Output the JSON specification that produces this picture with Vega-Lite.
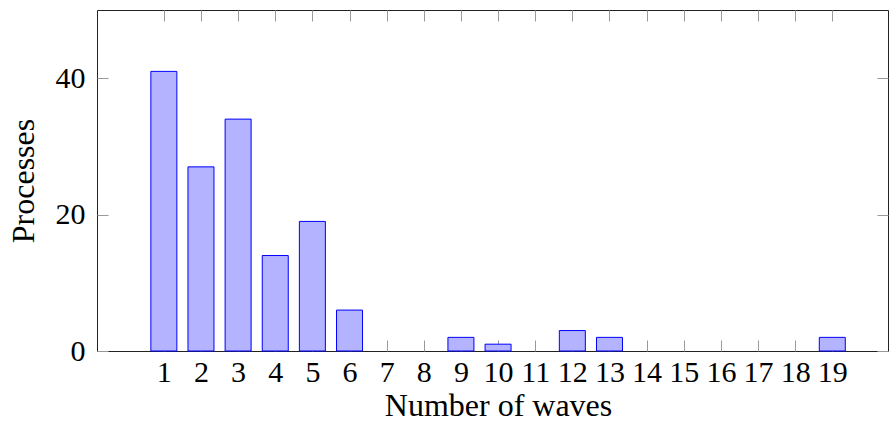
{
  "$schema": "https://vega.github.io/schema/vega-lite/v6.json",
  "autosize": {"type": "none"},
  "padding": {"left": 97, "top": 10, "right": 3, "bottom": 80},
  "width": 791,
  "height": 341,
  "config": {
    "view": {"stroke": "#222222", "strokeWidth": 1},
    "font": "Liberation Serif",
    "axis": {
      "labelFont": "Liberation Serif",
      "titleFont": "Liberation Serif",
      "labelFontSize": 30,
      "titleFontSize": 32,
      "labelColor": "#000000",
      "titleColor": "#000000",
      "titleFontWeight": "normal",
      "tickColor": "#999999",
      "tickWidth": 1,
      "tickSize": -11,
      "domain": false,
      "grid": false
    }
  },
  "data": {
    "values": [
      {"waves": 1, "processes": 41},
      {"waves": 2, "processes": 27},
      {"waves": 3, "processes": 34},
      {"waves": 4, "processes": 14},
      {"waves": 5, "processes": 19},
      {"waves": 6, "processes": 6},
      {"waves": 9, "processes": 2},
      {"waves": 10, "processes": 1},
      {"waves": 12, "processes": 3},
      {"waves": 13, "processes": 2},
      {"waves": 19, "processes": 2}
    ]
  },
  "layer": [
    {
      "mark": {"type": "bar", "size": 26, "fill": "#b3b3ff", "stroke": "#0000ff", "strokeWidth": 1},
      "encoding": {
        "x": {
          "field": "waves", "type": "quantitative",
          "scale": {"domain": [-0.8, 20.5], "nice": false, "zero": false, "padding": 0},
          "axis": {
            "orient": "bottom",
            "values": [1,2,3,4,5,6,7,8,9,10,11,12,13,14,15,16,17,18,19],
            "labelBaseline": "alphabetic",
            "labelPadding": 41,
            "labelFlush": false,
            "labelOverlap": false,
            "title": "Number of waves",
            "titleBaseline": "alphabetic",
            "titleX": 401,
            "titleY": 64,
            "titleAnchor": "middle"
          }
        },
        "y": {
          "field": "processes", "type": "quantitative",
          "scale": {"domain": [0, 50], "nice": false, "padding": 0},
          "axis": {
            "orient": "left",
            "values": [0, 20, 40],
            "labelPadding": 23,
            "labelBaseline": "middle",
            "labelFlush": false,
            "title": "Processes",
            "titleBaseline": "alphabetic",
            "titleX": -64,
            "titleY": 170.5,
            "titleAngle": -90,
            "titleAnchor": "middle"
          }
        }
      }
    },
    {
      "mark": {"type": "bar", "size": 26, "opacity": 0},
      "encoding": {
        "x": {
          "field": "waves", "type": "quantitative",
          "scale": {"domain": [-0.8, 20.5], "nice": false, "zero": false, "padding": 0},
          "axis": {
            "orient": "top",
            "values": [1,2,3,4,5,6,7,8,9,10,11,12,13,14,15,16,17,18,19],
            "labels": false,
            "title": null
          }
        },
        "y": {
          "field": "processes", "type": "quantitative",
          "scale": {"domain": [0, 50], "nice": false, "padding": 0},
          "axis": {
            "orient": "right",
            "values": [0, 20, 40],
            "labels": false,
            "title": null
          }
        }
      }
    }
  ],
  "resolve": {"axis": {"x": "independent", "y": "independent"}}
}
